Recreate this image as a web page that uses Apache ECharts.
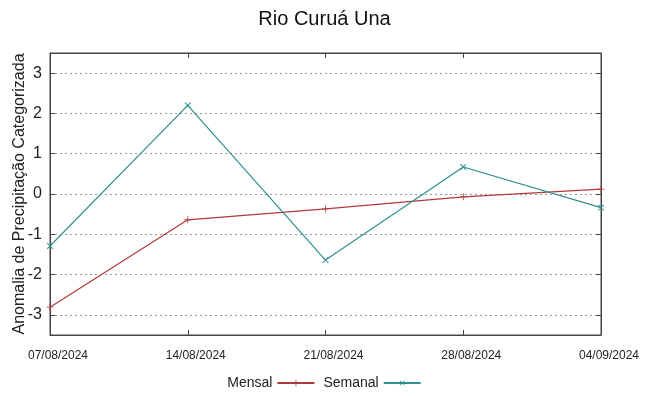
<!DOCTYPE html>
<html>
<head>
<meta charset="utf-8">
<script src="https://cdn.jsdelivr.net/npm/echarts@6/dist/echarts.min.js"></script>
<style>html,body{margin:0;padding:0;background:#fff;}#c{width:649px;height:396px;}</style>
</head>
<body>
<div id="c"></div>
<script>
const categories = ['07/08/2024', '14/08/2024', '21/08/2024', '28/08/2024', '04/09/2024'];
const mensal = [-2.81, -0.64, -0.37, -0.07, 0.12];
const semanal = [-1.29, 2.20, -1.64, 0.67, -0.34];
const yTicks = [-3, -2, -1, 0, 1, 2, 3];
const titleText = 'Rio Curuá Una';
const yName = 'Anomalia de Precipitação Categorizada';

const FONT = 'Liberation Sans, Arial, sans-serif';
const plus = 'path://M0,4.4h10v1.2h-10z M4.4,0h1.2v10h-1.2z';
const cRed = '#b03a3a';
const cTeal = '#2f8f8f';

const chart = echarts.init(document.getElementById('c'), null, {renderer: 'canvas'});
chart.setOption({
  backgroundColor: '#ffffff',
  animation: false,
  textStyle: {fontFamily: FONT},
  title: {
    text: titleText, left: 'center', top: 4,
    textStyle: {fontFamily: FONT, fontSize: 20, fontWeight: 'normal', color: '#111'}
  },
  legend: {
    bottom: 1, left: 'center', align: 'right',
    itemWidth: 37, itemHeight: 8, itemGap: 8,
    textStyle: {fontFamily: FONT, fontSize: 14, color: '#222'},
    data: ['Mensal', 'Semanal']
  },
  grid: {left: 50, right: 48, top: 53, bottom: 61, show: true, borderColor: '#444', borderWidth: 1,
         containLabel: false, outerBoundsMode: 'none'},
  xAxis: [{
    type: 'category', data: categories, boundaryGap: false, position: 'bottom',
    axisLine: {onZero: false, lineStyle: {color: '#444'}},
    axisTick: {inside: true, length: 5, lineStyle: {color: '#444'}},
    axisLabel: {fontFamily: FONT, fontSize: 12, color: '#222', margin: 15, interval: 0, padding: [0, 0, 0, 16]},
    splitLine: {show: false}
  }, {
    type: 'category', data: categories, boundaryGap: false, position: 'top',
    axisLine: {onZero: false, lineStyle: {color: '#444'}},
    axisTick: {inside: true, length: 5, lineStyle: {color: '#444'}},
    axisLabel: {show: false},
    splitLine: {show: false}
  }],
  yAxis: [{
    type: 'value', min: -3.5, max: 3.5, position: 'left',
    name: yName, nameLocation: 'middle', nameGap: 22, nameRotate: 90, nameMoveOverlap: false,
    nameTextStyle: {fontFamily: FONT, fontSize: 16, color: '#222'},
    axisLine: {show: true, onZero: false, lineStyle: {color: '#444'}},
    axisTick: {show: true, inside: true, length: 5, customValues: yTicks, lineStyle: {color: '#444'}},
    axisLabel: {fontFamily: FONT, fontSize: 16, color: '#222', margin: 8, customValues: yTicks},
    splitLine: {show: true, lineStyle: {color: '#999', type: [2, 3], width: 1}}
  }, {
    type: 'value', min: -3.5, max: 3.5, position: 'right',
    axisLine: {show: true, onZero: false, lineStyle: {color: '#444'}},
    axisTick: {show: true, inside: true, length: 5, customValues: yTicks, lineStyle: {color: '#444'}},
    axisLabel: {show: false},
    splitLine: {show: false}
  }],
  series: [{
    name: 'Mensal', type: 'line', data: mensal,
    symbol: plus, symbolSize: 7, showSymbol: true,
    lineStyle: {color: cRed, width: 1.2},
    itemStyle: {color: cRed}
  }, {
    name: 'Semanal', type: 'line', data: semanal,
    symbol: plus, symbolSize: 8, symbolRotate: 45, showSymbol: true,
    lineStyle: {color: cTeal, width: 1.2},
    itemStyle: {color: cTeal}
  }]
});
</script>
</body>
</html>
